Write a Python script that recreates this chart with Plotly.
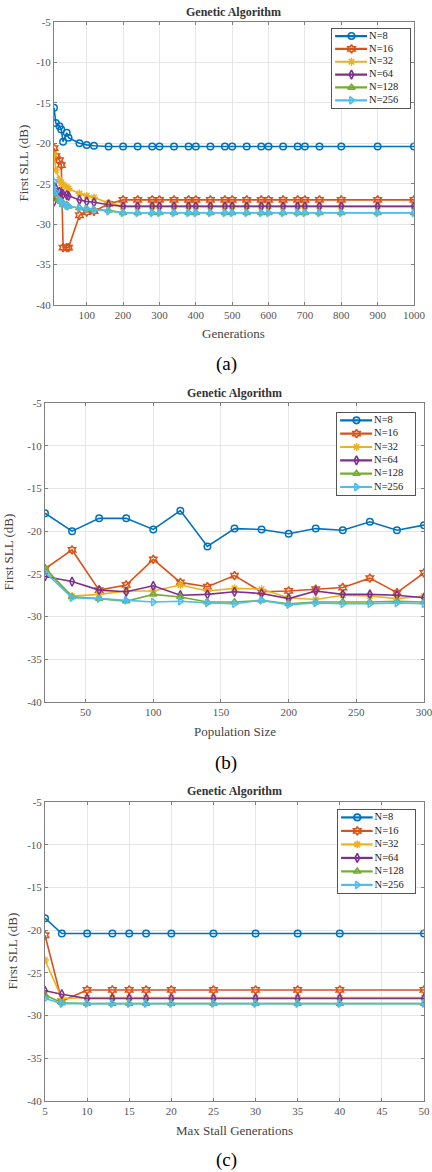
import plotly.graph_objects as go

# ---------------- data ----------------
series_names = ["N=8", "N=16", "N=32", "N=64", "N=128", "N=256"]
series_colors = ["#0072BD", "#D95319", "#EDB120", "#7E2F8E", "#77AC30", "#4DBEEE"]
series_symbols = ["circle-open", "hexagram-open", "asterisk-open",
                  "diamond-tall-open", "triangle-up-open", "triangle-right-open"]

# (a) Generations
gen_x = [10, 15, 25, 30, 35, 45, 50, 80, 100, 120, 160, 200, 240, 280, 300, 340,
         380, 400, 440, 480, 500, 540, 580, 600, 640, 680, 700, 740, 800, 900, 1000]
gen_n8 = [-15.6, -17.5, -17.9, -18.3, -19.8, -18.7, -19.3, -20.0, -20.2, -20.3, -20.4,
          -20.4, -20.4, -20.4, -20.4, -20.4, -20.4, -20.4, -20.4, -20.4, -20.4, -20.4,
          -20.4, -20.4, -20.4, -20.4, -20.4, -20.4, -20.4, -20.4, -20.4]
gen_n16 = [-20.6, -21.6, -22.1, -22.7, -32.9, -32.9, -32.9, -28.9, -28.5, -28.4, -27.5,
           -27.0, -27.0, -27.0, -27.0, -27.0, -27.0, -27.0, -27.0, -27.0, -27.0, -27.0,
           -27.0, -27.0, -27.0, -27.0, -27.0, -27.0, -27.0, -27.0, -27.0]
gen_n32 = [-21.4, -23.3, -24.5, -24.9, -25.1, -25.4, -25.6, -26.2, -26.5, -26.7, -27.4,
           -27.8, -27.8, -27.8, -27.8, -27.8, -27.8, -27.8, -27.8, -27.8, -27.8, -27.8,
           -27.8, -27.8, -27.8, -27.8, -27.8, -27.8, -27.8, -27.8, -27.8]
gen_n64 = [-27.2, -25.6, -26.0, -26.2, -26.3, -26.4, -26.5, -27.0, -27.2, -27.3, -27.6,
           -27.8, -27.8, -27.8, -27.8, -27.8, -27.8, -27.8, -27.8, -27.8, -27.8, -27.8,
           -27.8, -27.8, -27.8, -27.8, -27.8, -27.8, -27.8, -27.8, -27.8]
gen_n128 = [-26.2, -26.8, -27.0, -27.2, -27.4, -27.6, -27.8, -28.0, -28.1, -28.2, -28.3,
            -28.6, -28.6, -28.6, -28.6, -28.6, -28.6, -28.6, -28.6, -28.6, -28.6, -28.6,
            -28.6, -28.6, -28.6, -28.6, -28.6, -28.6, -28.6, -28.6, -28.6]
gen_n256 = [-24.7, -26.0, -27.0, -27.4, -27.6, -27.7, -27.8, -28.0, -28.1, -28.2, -28.4,
            -28.6, -28.6, -28.6, -28.6, -28.6, -28.6, -28.6, -28.6, -28.6, -28.6, -28.6,
            -28.6, -28.6, -28.6, -28.6, -28.6, -28.6, -28.6, -28.6, -28.6]

# (b) Population Size
pop_x = [20, 40, 60, 80, 100, 120, 140, 160, 180, 200, 220, 240, 260, 280, 300]
pop_n8 = [-17.9, -20.0, -18.5, -18.5, -19.8, -17.6, -21.8, -19.7, -19.8, -20.3,
          -19.7, -19.9, -18.9, -19.9, -19.3]
pop_n16 = [-24.4, -22.2, -26.9, -26.3, -23.3, -26.0, -26.5, -25.2, -27.1, -27.0,
           -26.8, -26.6, -25.5, -27.2, -24.9]
pop_n32 = [-24.5, -27.6, -27.4, -27.0, -27.0, -26.3, -27.0, -26.7, -26.8, -27.8,
           -28.0, -27.5, -27.6, -27.9, -27.6]
pop_n64 = [-25.3, -25.9, -26.9, -27.1, -26.4, -27.5, -27.4, -27.1, -27.3, -27.9,
           -27.0, -27.4, -27.4, -27.5, -27.8]
pop_n128 = [-24.3, -27.7, -27.9, -28.2, -27.4, -27.7, -28.3, -28.3, -28.1, -28.5,
            -28.3, -28.3, -28.3, -28.2, -28.3]
pop_n256 = [-24.8, -27.8, -27.9, -28.1, -28.3, -28.2, -28.4, -28.5, -28.1, -28.6,
            -28.4, -28.5, -28.5, -28.4, -28.5]

# (c) Max Stall Generations
stall_x = [5, 7, 10, 13, 15, 17, 20, 25, 30, 35, 40, 50]
stall_n8 = [-18.6, -20.4, -20.4, -20.4, -20.4, -20.4, -20.4, -20.4, -20.4, -20.4, -20.4, -20.4]
stall_n16 = [-20.6, -28.3, -27.0, -27.0, -27.0, -27.0, -27.0, -27.0, -27.0, -27.0, -27.0, -27.0]
stall_n32 = [-23.5, -28.0, -27.9, -27.9, -27.9, -27.9, -27.9, -27.9, -27.9, -27.9, -27.9, -27.9]
stall_n64 = [-27.1, -27.5, -28.0, -28.0, -28.0, -28.0, -28.0, -28.0, -28.0, -28.0, -28.0, -28.0]
stall_n128 = [-27.6, -28.5, -28.6, -28.6, -28.6, -28.6, -28.6, -28.6, -28.6, -28.6, -28.6, -28.6]
stall_n256 = [-28.0, -28.6, -28.6, -28.6, -28.6, -28.6, -28.6, -28.6, -28.6, -28.6, -28.6, -28.6]

y_ticks = [-40, -35, -30, -25, -20, -15, -10, -5]
y_tick_text = ["-40", "-35", "-30", "-25", "-20", "-15", "-10", "-5"]
a_x_ticks = [100, 200, 300, 400, 500, 600, 700, 800, 900, 1000]
b_x_ticks = [50, 100, 150, 200, 250, 300]
c_x_ticks = [5, 10, 15, 20, 25, 30, 35, 40, 45, 50]

panel_title = "Genetic Algorithm"
x_titles = ["Generations", "Population Size", "Max Stall Generations"]
y_title = "First SLL (dB)"
captions = ["(a)", "(b)", "(c)"]

# ---------------- figure ----------------
W, H = 432, 1172
SERIF = "Liberation Serif"

def px(v):
    return v / W

def py(v):
    return 1 - v / H

panels = [
    dict(x=gen_x, ys=[gen_n8, gen_n16, gen_n32, gen_n64, gen_n128, gen_n256],
         xrange=[10, 1000], xticks=a_x_ticks, box=(54, 414, 22, 305),
         legend_box=(332, 410, 29, 108), ytitle_x=23, xtitle_y=333, title_y=12, caption_y=364),
    dict(x=pop_x, ys=[pop_n8, pop_n16, pop_n32, pop_n64, pop_n128, pop_n256],
         xrange=[20, 300], xticks=b_x_ticks, box=(45, 424, 403, 702),
         legend_box=(337, 415, 413, 495), ytitle_x=8, xtitle_y=731, title_y=393, caption_y=763),
    dict(x=stall_x, ys=[stall_n8, stall_n16, stall_n32, stall_n64, stall_n128, stall_n256],
         xrange=[5, 50], xticks=c_x_ticks, box=(45, 424, 802, 1101),
         legend_box=(338, 415, 810, 893), ytitle_x=12, xtitle_y=1130, title_y=791, caption_y=1160),
]

fig = go.Figure()
annotations = []
layout_updates = {}
n_series = len(series_names)

for i, p in enumerate(panels):
    k = "" if i == 0 else str(i + 1)
    for j, name in enumerate(series_names):
        fig.add_trace(go.Scatter(
            x=p["x"], y=p["ys"][j], name=name, mode="lines+markers",
            xaxis="x" + k, yaxis="y" + k, showlegend=False,
            line=dict(color=series_colors[j], width=1.6),
            marker=dict(symbol=series_symbols[j], size=6.5, color=series_colors[j],
                        line=dict(width=1.5, color=series_colors[j])),
        ))
    l, r, t, b = p["box"]
    axis_common = dict(
        showgrid=True, gridcolor="#e6e6e6", gridwidth=1, automargin=False,
        showline=True, linecolor="#808080", linewidth=1, mirror="allticks",
        ticks="inside", ticklen=3, tickcolor="#808080", ticklabeloverflow="allow",
        tickfont=dict(family=SERIF, size=11, color="#555555"), zeroline=False,
    )
    layout_updates["xaxis" + k] = dict(
        domain=[px(l), px(r)], anchor="y" + k, range=p["xrange"],
        tickvals=p["xticks"], ticktext=[str(v) for v in p["xticks"]], **axis_common)
    layout_updates["yaxis" + k] = dict(
        domain=[py(b), py(t)], anchor="x" + k, range=[-40, -5],
        tickvals=y_ticks, ticktext=y_tick_text, **axis_common)

    # legend box drawn as its own small subplot (axes in units of the box)
    lk = str(i + 4)
    ll, lr, lt, lb = p["legend_box"]
    layout_updates["xaxis" + lk] = dict(
        domain=[px(ll), px(lr)], anchor="y" + lk, range=[0, 1], automargin=False,
        showgrid=False, zeroline=False, showticklabels=False, ticks="",
        showline=True, mirror=True, linecolor="#555555", linewidth=1, fixedrange=True)
    layout_updates["yaxis" + lk] = dict(
        domain=[py(lb), py(lt)], anchor="x" + lk, range=[n_series - 0.4, -0.55],
        automargin=False,
        showgrid=False, zeroline=False, showticklabels=False, ticks="",
        showline=True, mirror=True, linecolor="#555555", linewidth=1, fixedrange=True)
    # white background of legend box
    fig.add_trace(go.Scatter(
        x=[0, 1, 1, 0, 0], y=[-0.55, -0.55, n_series - 0.4, n_series - 0.4, -0.55],
        xaxis="x" + lk, yaxis="y" + lk, mode="lines", fill="toself",
        fillcolor="white", line=dict(width=0, color="white"),
        showlegend=False, hoverinfo="skip"))
    for j, name in enumerate(series_names):
        fig.add_trace(go.Scatter(
            x=[0.04, 0.25, 0.45], y=[j, j, j], xaxis="x" + lk, yaxis="y" + lk,
            mode="lines", line=dict(color=series_colors[j], width=2.2),
            showlegend=False, hoverinfo="skip"))
        fig.add_trace(go.Scatter(
            x=[0.25], y=[j], xaxis="x" + lk, yaxis="y" + lk, mode="markers",
            marker=dict(symbol=series_symbols[j], size=6.5, color=series_colors[j],
                        line=dict(width=1.6, color=series_colors[j])),
            showlegend=False, hoverinfo="skip"))
        fig.add_trace(go.Scatter(
            x=[0.475], y=[j], xaxis="x" + lk, yaxis="y" + lk,
            mode="text", text=[name], textposition="middle right",
            textfont=dict(family=SERIF, size=10.5, color="#222222"),
            showlegend=False, hoverinfo="skip"))

    cx = (l + r) / 2
    annotations.append(dict(text="<b>" + panel_title + "</b>", x=px(cx), y=py(p["title_y"]),
                            xref="paper", yref="paper", showarrow=False,
                            xanchor="center", yanchor="middle",
                            font=dict(family=SERIF, size=12, color="#333333")))
    annotations.append(dict(text=x_titles[i], x=px(cx), y=py(p["xtitle_y"]),
                            xref="paper", yref="paper", showarrow=False,
                            xanchor="center", yanchor="middle",
                            font=dict(family=SERIF, size=13, color="#444444")))
    annotations.append(dict(text=y_title, x=px(p["ytitle_x"]), y=py((t + b) / 2),
                            xref="paper", yref="paper", showarrow=False, textangle=-90,
                            xanchor="center", yanchor="middle",
                            font=dict(family=SERIF, size=13, color="#444444")))
    annotations.append(dict(text=captions[i], x=px(226), y=py(p["caption_y"]),
                            xref="paper", yref="paper", showarrow=False,
                            xanchor="center", yanchor="middle",
                            font=dict(family=SERIF, size=19, color="#000000")))

fig.update_layout(
    width=W, height=H, margin=dict(l=0, r=0, t=0, b=0, autoexpand=False),
    paper_bgcolor="white", plot_bgcolor="white",
    annotations=annotations, showlegend=False, **layout_updates,
)

fig.write_html(
    "out.html",
    config={"displayModeBar": False},
    post_script="document.body.style.margin='0px';document.body.style.overflow='hidden';",
)
